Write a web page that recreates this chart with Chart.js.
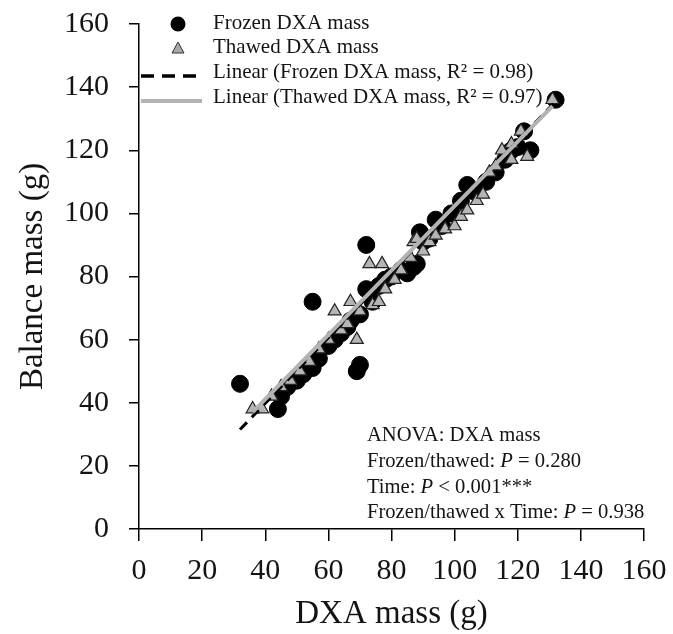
<!DOCTYPE html>
<html>
<head>
<meta charset="utf-8">
<script src="https://cdn.jsdelivr.net/npm/chart.js@4.4.1/dist/chart.umd.min.js"></script>
<style>
  html, body { margin: 0; padding: 0; background: #fff; }
  #wrap { width: 673px; height: 634px; }
</style>
</head>
<body>
<div id="wrap"><canvas id="c" width="673" height="634"></canvas></div>
<script>
// ---- data ----
const frozenX = [32, 44, 45, 47, 50, 52, 55, 55, 57, 60, 62, 64, 66, 67, 69, 70, 70, 72, 72, 74, 76, 78, 80, 83, 85, 87, 88, 89, 90, 92, 94, 96, 99, 102, 104, 106, 110, 113, 116, 118, 120, 122, 124, 132];
const frozenY = [46, 38, 42, 45, 47, 49, 51, 72, 54, 58, 60, 62, 64, 66, 50, 52, 68, 90, 76, 72, 77, 79, 80, 82, 81, 83, 84, 94, 91, 92, 98, 96, 100, 104, 109, 107, 110, 113, 117, 120, 121, 126, 120, 136];
const thawedX = [36, 39, 42, 45, 48, 51, 54, 57, 60, 62, 64, 66, 67, 69, 70, 73, 74, 76, 77, 78, 81, 83, 86, 87, 88, 90, 92, 94, 97, 100, 102, 104, 107, 109, 111, 113, 115, 118, 118, 121, 123, 131];
const thawedY = [38, 38, 42, 45, 47, 50, 53, 57, 60, 69, 63, 65, 72, 60, 69, 84, 71, 72, 84, 76, 79, 82, 86, 91, 92, 88, 91, 93, 95, 96, 99, 101, 104, 106, 113, 115, 120, 122, 117, 126, 118, 136];
// trend line end points
const frozenFitX = [32, 132];
const frozenFitY = [31.5, 135.5];
const thawedFitX = [36, 131];
const thawedFitY = [37, 134];
const xTicks = [0, 20, 40, 60, 80, 100, 120, 140, 160];
const yTicks = [0, 20, 40, 60, 80, 100, 120, 140, 160];
const legendLabels = ['Frozen DXA mass', 'Thawed DXA mass', 'Linear (Frozen DXA mass, R\u00B2 = 0.98)', 'Linear (Thawed DXA mass, R\u00B2 = 0.97)'];
const anovaLines = [
  ['ANOVA: DXA mass'],
  ['Frozen/thawed: ', 'P', ' = 0.280'],
  ['Time: ', 'P', ' < 0.001***'],
  ['Frozen/thawed x Time: ', 'P', ' = 0.938']
];

const pts = (xs, ys) => xs.map((x, i) => ({ x: x, y: ys[i] }));
const SERIF = '"Liberation Serif", "Times New Roman", serif';
const TXT = '#141414';

const overlay = {
  id: 'overlay',
  afterDraw(chart) {
    const ctx = chart.ctx;
    ctx.save();
    // legend
    const lx = 213, rows = [23, 47, 72, 97];
    ctx.font = '21px ' + SERIF;
    ctx.fillStyle = TXT;
    ctx.textBaseline = 'middle';
    ctx.textAlign = 'left';
    legendLabels.forEach((t, i) => ctx.fillText(t, lx, rows[i]));
    // circle marker
    ctx.beginPath();
    ctx.arc(178, rows[0] + 1, 7.5, 0, Math.PI * 2);
    ctx.fillStyle = '#000';
    ctx.fill();
    // triangle marker
    ctx.beginPath();
    ctx.moveTo(178, rows[1] - 5);
    ctx.lineTo(184, rows[1] + 6);
    ctx.lineTo(172, rows[1] + 6);
    ctx.closePath();
    ctx.fillStyle = '#a9a9a9';
    ctx.fill();
    ctx.strokeStyle = '#333';
    ctx.lineWidth = 1;
    ctx.stroke();
    // dashed line
    ctx.beginPath();
    ctx.setLineDash([13, 8]);
    ctx.moveTo(141, rows[2] + 4);
    ctx.lineTo(196, rows[2] + 4);
    ctx.strokeStyle = '#000';
    ctx.lineWidth = 3.5;
    ctx.stroke();
    ctx.setLineDash([]);
    // grey line
    ctx.beginPath();
    ctx.moveTo(141, rows[3] + 4);
    ctx.lineTo(202, rows[3] + 4);
    ctx.strokeStyle = '#b3b3b3';
    ctx.lineWidth = 4;
    ctx.stroke();

    // ANOVA annotation
    const ax = 367, arows = [436, 462, 488, 513];
    anovaLines.forEach((parts, i) => {
      let x = ax;
      parts.forEach((p, j) => {
        ctx.font = (j === 1 ? 'italic ' : '') + '20.6px ' + SERIF;
        ctx.fillStyle = TXT;
        ctx.fillText(p, x, arows[i]);
        x += ctx.measureText(p).width;
      });
    });
    ctx.restore();
  }
};

new Chart(document.getElementById('c'), {
  type: 'scatter',
  data: {
    datasets: [
      {
        label: legendLabels[0],
        data: pts(frozenX, frozenY),
        pointStyle: 'circle',
        pointRadius: 8.5,
        backgroundColor: '#000',
        borderColor: '#000',
        borderWidth: 1,
        order: 4
      },
      {
        label: legendLabels[1],
        data: pts(thawedX, thawedY),
        pointStyle: 'triangle',
        pointRadius: 7.5,
        backgroundColor: '#b5b5b5',
        borderColor: '#222',
        borderWidth: 1.2,
        order: 3
      },
      {
        label: legendLabels[2],
        data: pts(frozenFitX, frozenFitY),
        showLine: true,
        pointRadius: 0,
        borderColor: '#000',
        borderWidth: 3,
        borderDash: [10, 7],
        order: 2
      },
      {
        label: legendLabels[3],
        data: pts(thawedFitX, thawedFitY),
        showLine: true,
        pointRadius: 0,
        borderColor: '#b3b3b3',
        borderWidth: 4,
        order: 1
      }
    ]
  },
  options: {
    responsive: false,
    animation: false,
    events: [],
    layout: { padding: { top: 24, right: 29, left: 0, bottom: 0 } },
    plugins: { legend: { display: false }, tooltip: { enabled: false } },
    scales: {
      x: {
        type: 'linear',
        min: 0, max: 160,
        afterFit: s => { s.height = 105; s.paddingLeft = 0; s.paddingRight = 0; },
        afterBuildTicks: s => { s.ticks = xTicks.map(v => ({ value: v })); },
        border: { display: true, color: '#000', width: 1.5 },
        grid: { drawOnChartArea: false, drawTicks: true, tickLength: 12, color: '#000', lineWidth: 1.5 },
        ticks: { autoSkip: false, maxRotation: 0, padding: 12, color: TXT, font: { family: SERIF, size: 30 } },
        title: { display: true, text: 'DXA mass (g)', color: TXT, font: { family: SERIF, size: 33 }, padding: { top: 0, bottom: 0 } }
      },
      y: {
        type: 'linear',
        min: 0, max: 160,
        afterFit: s => { s.width = 139; s.paddingTop = 0; s.paddingBottom = 0; },
        afterBuildTicks: s => { s.ticks = yTicks.map(v => ({ value: v })); },
        border: { display: true, color: '#000', width: 1.5 },
        grid: { drawOnChartArea: false, drawTicks: true, tickLength: 10, color: '#000', lineWidth: 1.5 },
        ticks: { autoSkip: false, padding: 20, color: TXT, font: { family: SERIF, size: 30 } },
        title: { display: true, text: 'Balance mass (g)', color: TXT, font: { family: SERIF, size: 33 }, padding: { top: 14, bottom: 0 } }
      }
    }
  },
  plugins: [overlay]
});
</script>
</body>
</html>
